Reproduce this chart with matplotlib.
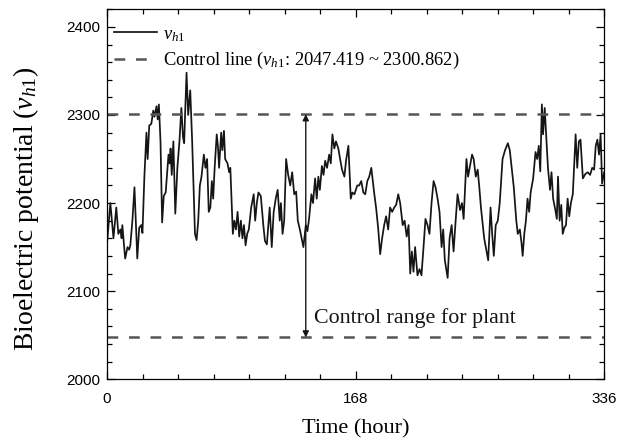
import matplotlib
matplotlib.use("Agg")
import matplotlib.pyplot as plt
from matplotlib.ticker import MultipleLocator
from matplotlib import font_manager

plt.rcParams['mathtext.fontset'] = 'custom'
plt.rcParams['mathtext.rm'] = 'Liberation Serif'
plt.rcParams['mathtext.it'] = 'Liberation Serif:italic'
plt.rcParams['font.family'] = ['Liberation Serif', 'DejaVu Serif']

hours = [0.0, 2.2, 4.3, 6.2, 7.6, 9.0, 9.8, 10.3, 12.2, 13.8, 14.9, 15.7, 17.1, 18.5, 20.4, 21.7,
         23.1, 23.9, 25.2, 26.6, 27.4, 28.5, 29.9, 31.2, 32.0, 33.4, 34.2, 35.0, 36.1, 37.2, 38.3,
         39.6, 41.5, 42.3, 42.9, 43.7, 44.8, 46.1, 47.5, 48.9, 50.2, 51.3, 52.1, 52.7, 53.7, 54.8,
         56.2, 57.5, 59.4, 60.5, 61.6, 62.7, 63.8, 65.4, 66.5, 67.6, 68.7, 69.8, 70.8, 71.7, 72.7,
         74.1, 74.9, 75.7, 77.1, 77.9, 79.0, 79.8, 81.4, 82.5, 83.3, 85.0, 86.0, 87.1, 88.2, 89.3,
         90.4, 91.5, 92.5, 93.6, 94.7, 95.8, 97.4, 99.1, 100.1, 101.2, 102.3, 103.9, 105.6, 106.7,
         108.0, 109.9, 111.3, 112.6, 114.0, 115.3, 116.7, 117.5, 118.6, 119.7, 121.0, 122.4, 123.8,
         125.1, 126.5, 127.8, 128.9, 130.3, 132.7, 134.3, 135.4, 136.5, 138.1, 139.2, 140.6, 141.7,
         142.8, 143.8, 145.2, 146.3, 147.4, 148.7, 150.1, 151.2, 152.3, 153.6, 154.7, 156.3, 157.7,
         158.8, 160.4, 161.5, 163.1, 164.7, 165.8, 167.2, 169.1, 170.4, 171.8, 173.2, 174.5, 175.9,
         177.2, 178.6, 180.5, 181.8, 183.2, 184.6, 185.9, 187.3, 188.6, 190.0, 191.3, 192.7, 194.1,
         195.4, 196.8, 198.1, 199.8, 201.1, 202.5, 203.8, 204.9, 206.0, 207.1, 208.2, 209.8, 211.2,
         212.5, 213.9, 215.2, 216.6, 217.9, 219.3, 220.7, 222.0, 223.4, 224.7, 226.1, 227.2, 228.3,
         230.2, 231.5, 232.9, 234.2, 235.6, 236.9, 238.6, 239.9, 241.0, 242.9, 244.0, 245.1, 246.7,
         247.8, 249.2, 250.5, 251.6, 252.7, 254.9, 256.2, 257.6, 259.2, 260.3, 261.4, 262.7, 264.1,
         265.4, 267.3, 269.0, 270.9, 272.2, 273.6, 274.9, 276.6, 277.6, 279.0, 280.1, 280.9, 282.0,
         283.1, 284.2, 285.3, 286.3, 288.0, 289.6, 290.7, 291.8, 292.8, 293.9, 294.7, 295.8, 296.9,
         298.0, 299.4, 300.4, 301.5, 302.9, 304.0, 304.8, 305.9, 307.0, 308.0, 309.1, 310.2, 311.3,
         312.4, 313.5, 314.8, 316.7, 317.8, 318.9, 320.0, 321.6, 323.3, 324.9, 326.5, 327.9, 329.2,
         330.3, 331.4, 332.5, 333.6, 334.6, 336.0]

vh1 = [2155, 2200, 2160, 2195, 2165, 2170, 2160, 2175, 2137, 2150, 2147, 2152, 2180, 2218, 2137, 2172,
       2175, 2166, 2230, 2280, 2250, 2288, 2290, 2305, 2298, 2310, 2295, 2312, 2270, 2178, 2208,
       2212, 2255, 2245, 2262, 2232, 2270, 2188, 2240, 2270, 2308, 2275, 2268, 2300, 2348, 2300,
       2328, 2270, 2165, 2158, 2180, 2220, 2230, 2255, 2240, 2250, 2190, 2195, 2225, 2205, 2240,
       2278, 2265, 2240, 2280, 2260, 2282, 2250, 2245, 2235, 2240, 2165, 2180, 2170, 2190, 2162,
       2180, 2160, 2175, 2152, 2165, 2170, 2195, 2210, 2180, 2200, 2212, 2208, 2175, 2157,
       2153, 2195, 2150, 2190, 2205, 2215, 2180, 2200, 2165, 2180, 2250, 2232, 2220,
       2235, 2210, 2213, 2180, 2170, 2150, 2175, 2168, 2182, 2210, 2200, 2228, 2205,
       2230, 2215, 2242, 2232, 2248, 2240, 2255, 2245, 2278, 2262, 2270, 2262, 2248,
       2238, 2230, 2248, 2265, 2205, 2212, 2210, 2220, 2220, 2225, 2212, 2210, 2225,
       2230, 2240, 2212, 2195, 2172, 2142, 2160, 2175, 2185, 2170, 2195, 2190, 2195,
       2198, 2210, 2200, 2175, 2180, 2162, 2175, 2120, 2145, 2122, 2150, 2118, 2125,
       2118, 2150, 2182, 2175, 2165, 2200, 2225, 2218, 2205, 2190, 2150, 2170, 2135,
       2115, 2160, 2175, 2145, 2180, 2210, 2192, 2200, 2182, 2250, 2230, 2240, 2255,
       2250, 2230, 2238, 2218, 2195, 2160, 2148, 2135, 2195, 2165, 2140, 2175, 2180,
       2200, 2250, 2260, 2268, 2260, 2238, 2218, 2180, 2165, 2170, 2155, 2140, 2165,
       2180, 2205, 2190, 2212, 2228, 2258, 2250, 2265, 2236, 2312, 2278, 2308, 2275,
       2240, 2215, 2235, 2205, 2193, 2182, 2230, 2180, 2198, 2165, 2172, 2175, 2205,
       2185, 2200, 2210, 2278, 2240, 2270, 2272, 2228, 2233, 2235, 2232, 2240, 2238,
       2265, 2272, 2255, 2278, 2222, 2235]

lower_limit = 2047.419
upper_limit = 2300.862
arrow_hour = 134.3

fig = plt.figure(figsize=(6.3, 4.43), dpi=100)
ax = fig.add_axes([0.170, 0.144, 0.789, 0.835])

ax.plot(hours, vh1, color='#151515', lw=1.25, label=r'$v_{h1}$')
ax.axhline(upper_limit, color='#555555', lw=1.8, dashes=(4.3, 4.3),
           label=r'Control line ($v_{h1}$: 2047.419 ~ 2300.862)')
ax.axhline(lower_limit, color='#555555', lw=1.8, dashes=(4.3, 4.3))

ax.annotate('', xy=(arrow_hour, upper_limit), xytext=(arrow_hour, lower_limit),
            arrowprops=dict(arrowstyle='<|-|>', color='#151515', lw=1.0,
                            mutation_scale=9, shrinkA=0, shrinkB=0))
ax.text(arrow_hour + 5.5, 2069, 'Control range for plant', fontsize=15.8,
        va='center', ha='left', color='#151515')

ax.set_xlim(0, 336)
ax.set_ylim(2000, 2420)
ax.set_xticks([0, 168, 336])
ax.set_yticks([2000, 2100, 2200, 2300, 2400])
ax.xaxis.set_minor_locator(MultipleLocator(24))
ax.yaxis.set_minor_locator(MultipleLocator(20))
ax.tick_params(which='both', direction='in', top=True, right=True, width=0.9)
ax.tick_params(which='major', length=6)
ax.tick_params(which='minor', length=3.5)

fam = ['Liberation Sans Narrow', 'Liberation Sans', 'DejaVu Sans']
avail = {f.name for f in font_manager.fontManager.ttflist}
tick_fam = [f for f in fam if f in avail] or ['DejaVu Sans']
for lab in ax.get_xticklabels() + ax.get_yticklabels():
    lab.set_family(tick_fam)
    lab.set_fontsize(11)
ax.tick_params(axis='x', pad=9)
ax.tick_params(axis='y', pad=5)

for s in ax.spines.values():
    s.set_linewidth(0.9)

ax.set_xlabel('Time (hour)', fontsize=16)
ax.set_ylabel(r'Bioelectric potential ($v_{h1}$)', fontsize=20)
ax.xaxis.set_label_coords(0.5, -0.108)
ax.yaxis.set_label_coords(-0.132, 0.46)

leg = ax.legend(loc='upper left', frameon=False, fontsize=13.3, handlelength=2.3,
                handletextpad=0.35, labelspacing=0.35, borderaxespad=0.3,
                bbox_to_anchor=(-0.012, 0.99))

fig.savefig('out.png', dpi=100)
